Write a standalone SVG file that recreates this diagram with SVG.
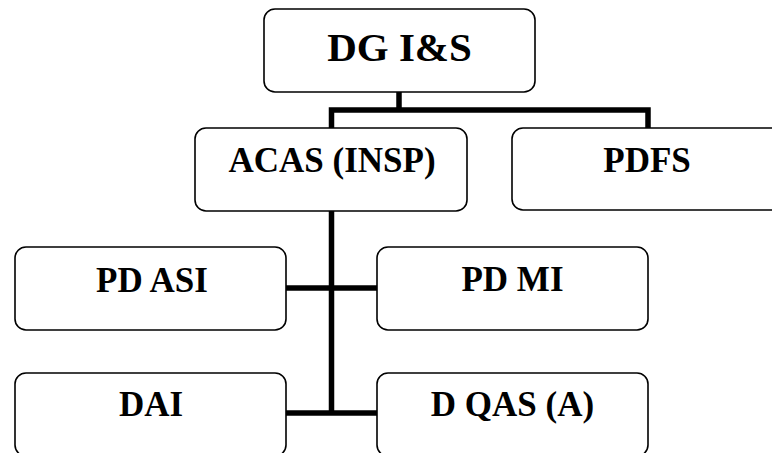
<svg xmlns="http://www.w3.org/2000/svg" width="772" height="453" viewBox="0 0 772 453">
<style>
.box{fill:#fff;stroke:#000;stroke-width:1.6}
.t{font-family:"Liberation Serif","Times New Roman",serif;font-weight:bold;font-size:35px;text-anchor:middle;fill:#000}
.big{font-size:41px}
.c{fill:none;stroke:#000;stroke-width:5.5;stroke-linecap:butt;stroke-linejoin:miter}
</style>
<rect width="772" height="453" fill="#fff"/>
<g id="connectors">
<path class="c" d="M399,92 V110 M331.5,128 V110 H648 V128"/>
<path class="c" d="M331.5,211 V413"/>
<path class="c" d="M286,288 H377"/>
<path class="c" d="M286,413 H377"/>
</g>
<g id="dg">
<rect class="box" x="264" y="9" width="271" height="83" rx="11"/>
<text class="t big" x="399.5" y="61">DG I&amp;S</text>
</g>
<g id="acas">
<rect class="box" x="195" y="128" width="272" height="83" rx="11"/>
<text class="t" x="332" y="172">ACAS (INSP)</text>
</g>
<g id="pdfs">
<rect class="box" x="512" y="128" width="271" height="82" rx="11"/>
<text class="t" x="647" y="172">PDFS</text>
</g>
<g id="pdasi">
<rect class="box" x="15" y="247" width="271" height="83" rx="11"/>
<text class="t" x="152" y="292">PD ASI</text>
</g>
<g id="pdmi">
<rect class="box" x="377" y="247" width="271" height="83" rx="11"/>
<text class="t" x="512.5" y="291">PD MI</text>
</g>
<g id="dai">
<rect class="box" x="15" y="373" width="271" height="83" rx="11"/>
<text class="t" x="151" y="416">DAI</text>
</g>
<g id="dqas">
<rect class="box" x="377" y="373" width="271" height="83" rx="11"/>
<text class="t" x="512.5" y="416">D QAS (A)</text>
</g>
</svg>
